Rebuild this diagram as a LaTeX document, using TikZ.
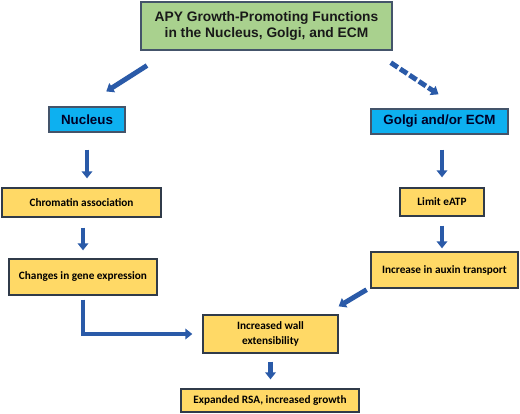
\documentclass[tikz,border=0pt]{standalone}
\usepackage{fontspec}
\setmainfont{Liberation Sans}
\newfontfamily\calibri{Carlito}
\usetikzlibrary{positioning,arrows.meta,calc}
\definecolor{boxgreen}{HTML}{A9D18E}
\definecolor{boxblue}{HTML}{0DB0F0}
\definecolor{boxyellow}{HTML}{FFD966}
\definecolor{arrowblue}{HTML}{2A5AA8}
\definecolor{edgegray}{HTML}{44546A}
\begin{document}
\begin{tikzpicture}[>={Triangle[width=7.5pt,length=5pt]},x=0.025cm,y=-0.025cm,
  titlebox/.style={draw=edgegray,line width=1pt,fill=boxgreen,text=black!90,align=center,inner sep=0pt,font=\bfseries\fontsize{9.8}{12}\selectfont},
  sitebox/.style={draw=edgegray,line width=1pt,fill=boxblue,text=black!85!blue,inner sep=0pt,font=\bfseries\fontsize{9.5}{11}\selectfont},
  stepbox/.style={draw=edgegray!70!black,line width=0.9pt,fill=boxyellow,align=center,inner sep=0pt,font=\calibri\bfseries\fontsize{8}{10.5}\selectfont},
  flow/.style={->,draw=arrowblue,line width=3.5pt}]
  \useasboundingbox (0,0) rectangle (520,414);
  \node[titlebox,minimum width=6.275cm,minimum height=1.2cm] (apy) at (266.5,26) {APY Growth-Promoting Functions\\in the Nucleus, Golgi, and ECM};
  \node[sitebox,minimum width=1.9cm,minimum height=0.625cm] (nuc) at (87,119.5) {Nucleus};
  \node[sitebox,minimum width=3.425cm,minimum height=0.625cm] (golgi) at (439.5,121.5) {Golgi and/or ECM};
  \node[stepbox,minimum width=3.975cm,minimum height=0.725cm] (chrom) at (81.5,202.5) {Chromatin association};
  \node[stepbox,minimum width=3.7cm,minimum height=0.9cm] (genex) at (83,277) {Changes in gene expression};
  \node[stepbox,minimum width=2.1cm,minimum height=0.7cm] (eatp) at (442,202) {Limit eATP};
  \node[stepbox,minimum width=3.675cm,minimum height=0.9cm] (auxin) at (444.5,270) {Increase in auxin transport};
  \node[stepbox,minimum width=3.375cm,minimum height=0.95cm] (wall) at (270.5,334) {Increased wall\\extensibility};
  \node[stepbox,minimum width=4.45cm,minimum height=0.575cm] (rsa) at (270,400.5) {Expanded RSA, increased growth};

  \draw[flow,shorten <=0.69cm,shorten >=0.69cm] ($(apy.south west)+(30,0)$) -- ($(nuc.north)+(-4,0)$);
  \draw[flow,dash pattern=on 6pt off 2pt,shorten <=0.54cm,shorten >=0.63cm] ($(apy.south east)+(-20,0)$) -- ($(golgi.north)+(20,0)$);
  \draw[flow,shorten <=0.425cm,shorten >=0.225cm] (nuc.south) -- (nuc.south |- chrom.north);
  \draw[flow,shorten <=0.375cm,shorten >=0.25cm] (eatp.north |- golgi.south) -- (eatp.north);
  \draw[flow,shorten <=0.25cm,shorten >=0.2cm] (genex.north |- chrom.south) -- (genex.north);
  \draw[flow,shorten <=0.225cm,shorten >=0.075cm] (eatp.south) -- (eatp.south |- auxin.north);
  \draw[flow,shorten <=0.1cm,shorten >=0.25cm] (genex.south) |- (wall.west);
  \draw[flow,shorten <=0.05cm] ($(auxin.south west)+(-2,0)$) -- ($(wall.north east)+(0,-8)$);
  \draw[flow,shorten <=0.2cm,shorten >=0.225cm] (wall.south) -- (wall.south |- rsa.north);
\end{tikzpicture}
\end{document}
